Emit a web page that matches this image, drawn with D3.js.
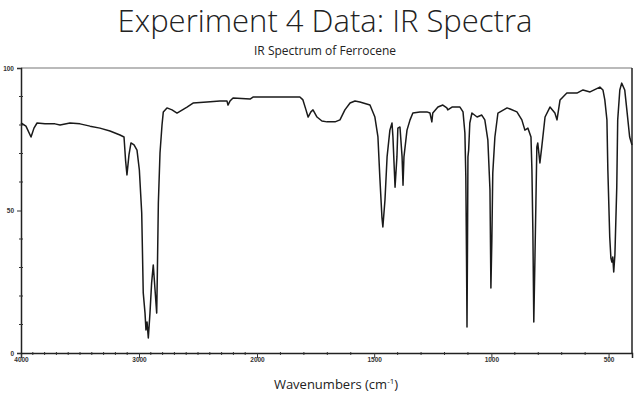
<!DOCTYPE html>
<html><head><meta charset="utf-8">
<script src="https://cdn.jsdelivr.net/npm/d3@7"></script>
<style>
body{margin:0;background:#fff;}
svg{display:block;}
</style></head>
<body>
<svg id="c" width="638" height="403"></svg>
<script>
// Wavenumbers (cm-1) and %Transmittance
const wavenumbers = [4000,3958,3915,3890,3864,3797,3712,3669,3585,3500,3415,3331,3246,3161,3127,3114,3102,3085,3068,3042,3017,2997,2977,2964,2949,2941,2932,2921,2907,2893,2879,2864,2850,2845,2836,2822,2805,2794,2763,2720,2678,2593,2542,2424,2314,2254,2246,2229,2203,2059,2034,2000,
1902,1817,1804,1791,1782,1770,1761,1744,1723,1701,1667,1646,1625,1603,1582,1561,1518,1497,1484,1476,1467,1463,1454,1445,1433,1424,1420,1411,1403,1399,1390,1381,1377,1373,1360,1347,1335,1305,1275,1262,1254,1250,1228,1207,1190,1186,1168,1134,1121,1113,1109,1106,1104,1102,1100,1097,1092,1083,1061,1041,1028,1015,1006,1002,998,994,985,972,933,920,891,870,857,844,831,827,823,819,815,810,806,802,793,785,771,750,729,720,707,678,635,609,579,537,524,516,507,503,495,490,486,482,478,473,465,461,452,444,431,422,410,400];
const transmittance = [80.7,79.6,75.8,78.9,80.7,80.4,80.4,80.0,80.7,80.4,79.6,78.9,77.9,76.5,75.8,67.7,62.5,69.5,73.7,73.0,71.2,64.2,49.1,21.1,14.0,8.1,10.9,5.3,14.0,24.6,30.9,22.1,14.0,26.7,52.6,70.2,80.0,84.6,86.0,85.3,84.2,86.3,87.7,88.1,88.4,88.4,87.0,88.4,89.5,89.1,89.8,89.8,
89.8,89.8,88.8,85.3,82.8,84.6,85.3,82.8,81.4,81.1,81.1,81.8,85.3,87.7,88.4,88.1,87.0,82.8,75.8,61.8,47.7,44.2,53.7,68.8,78.2,80.7,75.8,58.2,68.8,78.9,79.3,68.8,58.9,68.8,78.2,81.8,84.2,84.6,84.6,84.2,81.1,84.2,86.3,87.0,86.0,85.3,86.3,86.3,84.6,77.2,61.8,32.6,9.1,36.1,68.8,71.2,80.7,84.2,82.8,83.5,81.8,74.7,57.2,22.8,39.6,63.2,75.8,84.2,86.0,85.6,84.6,81.8,78.2,78.9,75.8,64.2,43.2,10.9,29.1,52.6,72.3,73.7,66.7,72.3,82.8,86.3,84.2,81.8,88.8,91.2,91.2,92.3,91.6,93.3,92.3,88.8,81.8,64.2,40.7,33.3,31.9,33.7,28.4,34.4,58.2,81.8,92.3,94.7,92.3,85.3,75.8,73.0];
const xTickLabels = [4000,3000,2000,1500,1000,500];
const xMinorTicks = [3900,3800,3700,3600,3500,3400,3300,3200,3100,2900,2800,2700,2600,2500,2400,2300,2200,2100,1900,1800,1700,1600,1400,1300,1200,1100,900,800,700,600];
const yTickLabels = [0,50,100];
const yMinorTicks = [10,20,30,40,60,70,80,90];

const svg = d3.select("#c");
const x = d3.scaleLinear().domain([4000,2000,400]).range([21,257,632]);
const y = d3.scaleLinear().domain([0,100]).range([353,68]);

// Titles
svg.append("text").attr("x",325).attr("y",32).attr("text-anchor","middle")
  .attr("font-family","Open Sans").attr("font-weight",300).attr("font-size",31).attr("fill","#222")
  .text("Experiment 4 Data: IR Spectra");
svg.append("text").attr("x",325).attr("y",55).attr("text-anchor","middle")
  .attr("font-family","Open Sans").attr("font-size",12).attr("fill","#222")
  .text("IR Spectrum of Ferrocene");
svg.append("text").attr("x",336).attr("y",389).attr("text-anchor","middle")
  .attr("font-family","Open Sans").attr("font-size",13).attr("fill","#222")
  .html("Wavenumbers (cm<tspan dy='-5' font-size='8'>-1</tspan><tspan dy='5'>)</tspan>");

// Frame (top, right)
svg.append("line").attr("x1",x(4000)).attr("x2",x(400)).attr("y1",y(100)).attr("y2",y(100))
  .attr("stroke","#777").attr("stroke-width",1.2);
svg.append("line").attr("x1",x(400)).attr("x2",x(400)).attr("y1",y(100)).attr("y2",y(0))
  .attr("stroke","#222").attr("stroke-width",1.5);

// X axis
const xAxis = svg.append("g").attr("transform",`translate(0,${y(0)})`);
xAxis.call(d3.axisBottom(x).tickValues(xTickLabels).tickSize(5).tickFormat(d3.format("d")))
  .call(g=>g.select(".domain").attr("stroke","#222").attr("stroke-width",1.5))
  .call(g=>g.selectAll(".tick line").attr("stroke","#333"))
  .call(g=>g.selectAll("text").attr("font-family","Liberation Sans").attr("font-weight","bold")
      .attr("font-size",6.5).attr("fill","#333").attr("dy","0.2em"));
xAxis.selectAll(".minor").data(xMinorTicks).join("line").attr("class","minor")
  .attr("x1",d=>x(d)).attr("x2",d=>x(d)).attr("y1",-1).attr("y2",2).attr("stroke","#333");

// Y axis
const yAxis = svg.append("g").attr("transform",`translate(${x(4000)},0)`);
yAxis.call(d3.axisLeft(y).tickValues(yTickLabels).tickSize(4).tickFormat(d3.format("d")))
  .call(g=>g.select(".domain").attr("stroke","#222").attr("stroke-width",1.5))
  .call(g=>g.selectAll(".tick line").attr("stroke","#333"))
  .call(g=>g.selectAll("text").attr("font-family","Liberation Sans").attr("font-weight","bold")
      .attr("font-size",6.5).attr("fill","#333"));
yAxis.selectAll(".minor").data(yMinorTicks).join("line").attr("class","minor")
  .attr("x1",-2).attr("x2",2).attr("y1",d=>y(d)).attr("y2",d=>y(d)).attr("stroke","#333");

// Spectrum
const pts = wavenumbers.map((w,i)=>[w,transmittance[i]]);
svg.append("path").datum(pts)
  .attr("fill","none").attr("stroke","#1a1a1a").attr("stroke-width",1.5).attr("stroke-linejoin","round")
  .attr("d",d3.line().x(d=>x(d[0])).y(d=>y(d[1])));
</script>
</body></html>
